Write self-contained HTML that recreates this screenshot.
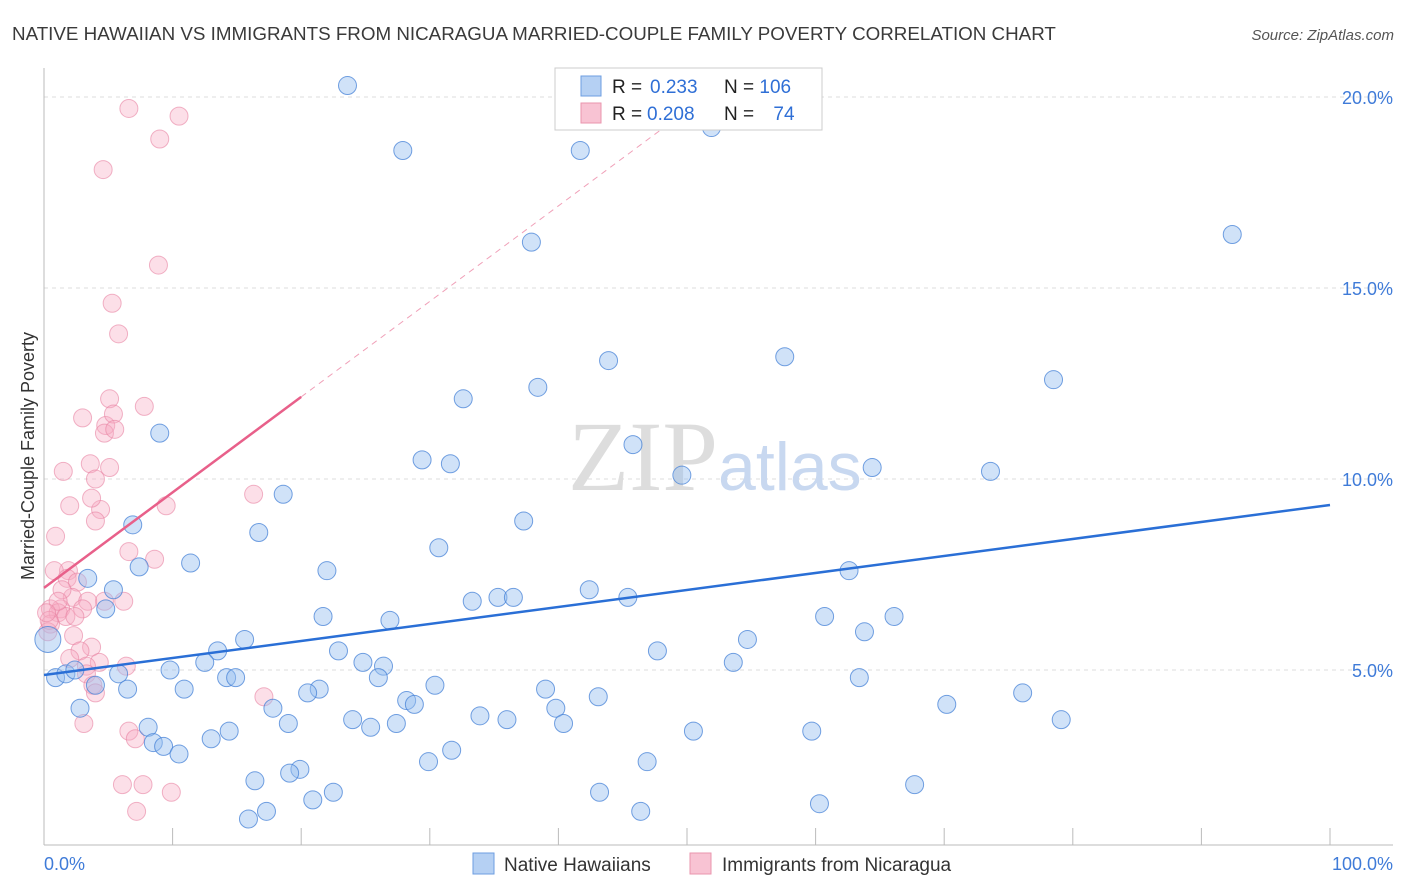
<!DOCTYPE html>
<html><head><meta charset="utf-8"><style>
body{margin:0;background:#fff;font-family:"Liberation Sans",sans-serif;}
svg{display:block}
</style></head><body>
<svg id="chart" width="1406" height="892">
<text x="12" y="40" font-size="18.8" fill="#3a3a3a">NATIVE HAWAIIAN VS IMMIGRANTS FROM NICARAGUA MARRIED-COUPLE FAMILY POVERTY CORRELATION CHART</text>
<text x="1394" y="40" font-size="15" fill="#555" font-style="italic" text-anchor="end">Source: ZipAtlas.com</text>
<g id="grid"></g>
<text x="718" y="490" font-size="100" font-family="Liberation Serif" fill="#ddd" text-anchor="end">ZIP</text>
<text x="718" y="490" font-size="68" fill="#c8d8f0">atlas</text>
<g id="marks"></g>
<text transform="translate(34,456) rotate(-90)" font-size="18" fill="#333" text-anchor="middle">Married-Couple Family Poverty</text>
<g>
<rect x="555" y="68" width="267" height="62" fill="#fff" stroke="#ccc"/>
<rect x="581" y="76" width="20" height="20" fill="#b5d0f3" stroke="#6d9ee0"/>
<rect x="581" y="103" width="20" height="20" fill="#f8c3d3" stroke="#ea94ae"/>
<text x="612" y="93" font-size="19" fill="#222">R = </text>
<text x="650" y="93" font-size="19" fill="#2f6fd6">0.233</text>
<text x="724" y="93" font-size="19" fill="#222">N = <tspan fill="#2f6fd6">106</tspan></text>
<text x="612" y="120" font-size="19" fill="#222">R = </text>
<text x="647" y="120" font-size="19" fill="#2f6fd6">0.208</text>
<text x="724" y="120" font-size="19" fill="#222">N = <tspan fill="#2f6fd6" dx="14">74</tspan></text>
</g>
<g>
<rect x="473" y="853" width="21" height="21" fill="#b5d0f3" stroke="#6d9ee0"/>
<text x="504" y="871" font-size="19" fill="#333">Native Hawaiians</text>
<rect x="690" y="853" width="21" height="21" fill="#f8c3d3" stroke="#ea94ae"/>
<text x="722" y="871" font-size="19" fill="#333">Immigrants from Nicaragua</text>
</g>
</svg>
<script>
const yTicks=[5,10,15,20];
const yTickLabels=["5.0%","10.0%","15.0%","20.0%"];
const xTickVals=[0,10,20,30,40,50,60,70,80,90,100];
const blueX=[23.6,27.9,41.7,51.9,37.9,92.4,43.9,57.6,78.5,38.4,32.6,9.0,45.8,29.4,31.6,49.6,64.4,73.6,18.6,37.3,6.9,16.7,30.7,11.4,7.4,22.0,62.6,3.4,42.4,35.3,33.3,36.5,45.4,5.4,4.8,21.7,26.9,60.7,66.1,63.8,54.7,15.6,13.5,22.9,47.7,12.5,24.8,53.6,9.8,26.4,26.0,0.9,1.7,2.4,5.8,63.4,14.2,14.9,30.4,10.9,6.5,4.0,21.4,20.5,39.0,43.1,28.2,28.8,2.8,17.8,39.8,70.2,76.1,79.1,24.0,33.9,36.0,40.4,19.0,8.1,27.4,25.4,14.4,13.0,50.5,59.7,8.5,9.3,10.5,31.7,29.9,46.9,19.9,19.1,16.4,67.7,43.2,22.5,20.9,60.3,17.3,15.9,46.4,0.3];
const blueY=[20.3,18.6,18.6,19.2,16.2,16.4,13.1,13.2,12.6,12.4,12.1,11.2,10.9,10.5,10.4,10.1,10.3,10.2,9.6,8.9,8.8,8.6,8.2,7.8,7.7,7.6,7.6,7.4,7.1,6.9,6.8,6.9,6.9,7.1,6.6,6.4,6.3,6.4,6.4,6.0,5.8,5.8,5.5,5.5,5.5,5.2,5.2,5.2,5.0,5.1,4.8,4.8,4.9,5.0,4.9,4.8,4.8,4.8,4.6,4.5,4.5,4.6,4.5,4.4,4.5,4.3,4.2,4.1,4.0,4.0,4.0,4.1,4.4,3.7,3.7,3.8,3.7,3.6,3.6,3.5,3.6,3.5,3.4,3.2,3.4,3.4,3.1,3.0,2.8,2.9,2.6,2.6,2.4,2.3,2.1,2.0,1.8,1.8,1.6,1.5,1.3,1.1,1.3,5.8];
const pinkX=[6.6,10.5,9.0,4.6,8.9,5.3,5.8,5.1,3.0,4.8,5.4,4.7,5.5,7.8,3.6,5.1,1.5,4.0,4.4,2.0,3.7,4.0,16.3,9.5,0.9,6.6,8.6,1.9,0.8,1.8,2.6,2.2,4.7,6.2,3.4,3.0,1.3,0.5,1.1,1.7,2.4,0.5,0.3,2.3,3.7,2.8,2.0,4.3,3.3,6.4,3.3,3.8,4.0,3.1,17.1,6.6,7.1,6.1,7.7,9.9,7.2,0.4,1.4,1.1,0.2];
const pinkY=[19.7,19.5,18.9,18.1,15.6,14.6,13.8,12.1,11.6,11.4,11.7,11.2,11.3,11.9,10.4,10.3,10.2,10.0,9.2,9.3,9.5,8.9,9.6,9.3,8.5,8.1,7.9,7.6,7.6,7.4,7.3,6.9,6.8,6.8,6.8,6.6,6.6,6.6,6.5,6.4,6.4,6.2,6.0,5.9,5.6,5.5,5.3,5.2,5.1,5.1,4.9,4.6,4.4,3.6,4.3,3.4,3.2,2.0,2.0,1.8,1.3,6.3,7.1,6.8,6.5];
const blueTrend=[4.87,9.32];
const pinkTrend=[7.15,12.15];
const NS="http://www.w3.org/2000/svg";
const X=v=>44+v*12.86, Y=v=>861-v*38.2;
function mk(t,a,p){const e=document.createElementNS(NS,t);for(const k in a)e.setAttribute(k,a[k]);p.appendChild(e);return e;}
const grid=document.getElementById('grid'), marks=document.getElementById('marks');
yTicks.forEach((v,i)=>{
 const l=mk('line',{x1:44,x2:1393,y1:Y(v),y2:Y(v),stroke:'#ddd','stroke-dasharray':'4,4'},grid);
 
 
 const t=mk('text',{x:1393,y:Y(v)+7,'font-size':18,fill:'#3f7bd8','text-anchor':'end'},grid);
 t.textContent=yTickLabels[i];
 
 
});
const ax=mk('line',{x1:44,x2:1393,y1:845,y2:845,stroke:'#bbb'},grid);


const ay=mk('line',{x1:44,x2:44,y1:68,y2:845,stroke:'#bbb'},grid);


xTickVals.forEach(v=>{
 const l=mk('line',{x1:X(v),x2:X(v),y1:828,y2:845,stroke:'#bbb'},grid);
 
 
});
[['0.0%',44,'start'],['100.0%',1393,'end']].forEach(a=>{
 const t=mk('text',{x:a[1],y:870,'font-size':18,fill:'#3f7bd8','text-anchor':a[2]},grid);
 t.textContent=a[0];
 
 
});
pinkX.forEach((x,i)=>{
 const c=mk('circle',{cx:X(x),cy:Y(pinkY[i]),r:9,fill:'rgba(246,170,195,0.38)',stroke:'rgba(232,130,162,0.6)','stroke-width':1},marks);
 
 
});
blueX.forEach((x,i)=>{
 const big=i===blueX.length-1;
 const c=mk('circle',{cx:X(x),cy:Y(blueY[i]),r:big?13:9,fill:'rgba(150,190,240,0.45)',stroke:'rgba(70,130,215,0.75)','stroke-width':1},marks);
 
 
});
const bt=mk('line',{x1:X(0),y1:Y(blueTrend[0]),x2:X(100),y2:Y(blueTrend[1]),stroke:'#2a6fd6','stroke-width':2.5},marks);


const slope=(pinkTrend[1]-pinkTrend[0])/20;
const xEnd=(20.3-pinkTrend[0])/slope;
const pd=mk('line',{x1:X(20),y1:Y(pinkTrend[1]),x2:X(xEnd),y2:Y(20.3),stroke:'#f0a0b8','stroke-width':1,'stroke-dasharray':'6,5'},marks);


const pt=mk('line',{x1:X(0),y1:Y(pinkTrend[0]),x2:X(20),y2:Y(pinkTrend[1]),stroke:'#e8608a','stroke-width':2.5},marks);


</script>
</body></html>
